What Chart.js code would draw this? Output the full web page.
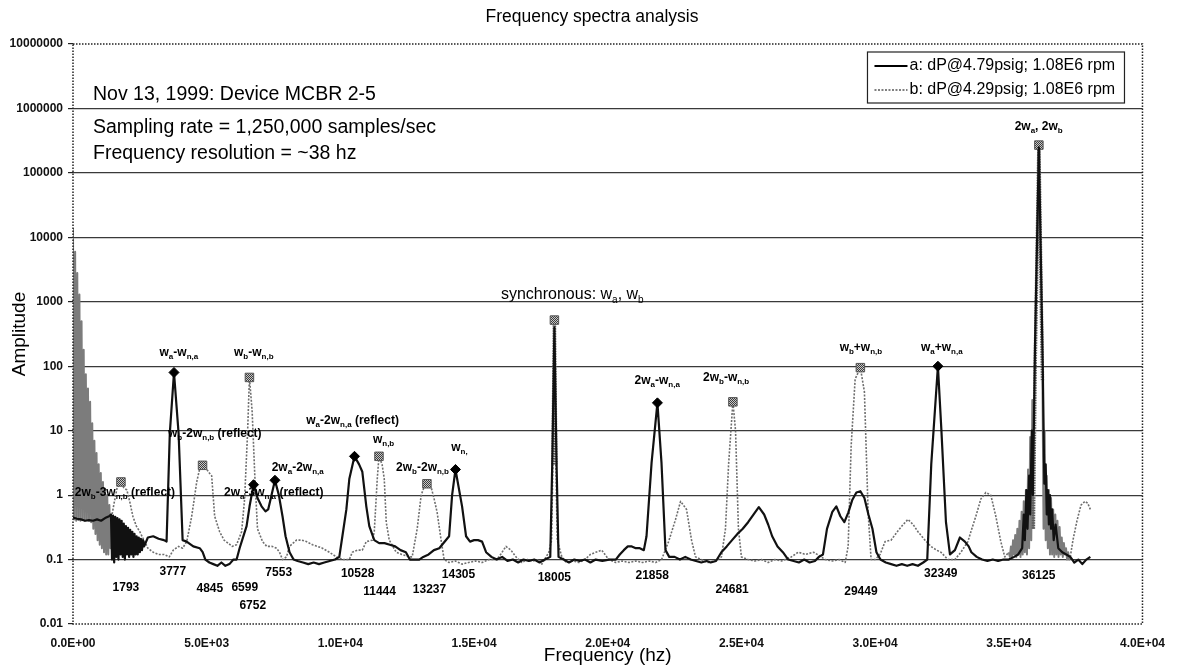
<!DOCTYPE html>
<html>
<head>
<meta charset="utf-8">
<title>Frequency spectra analysis</title>
<script src="https://cdn.jsdelivr.net/npm/chart.js@4.4.1/dist/chart.umd.min.js"></script>
<style>
  html, body { margin: 0; padding: 0; background: #fff; }
  canvas { display: block; }
</style>
</head>
<body>
<canvas id="spectrum" width="1177" height="670"></canvas>
<script>
const FAMILY = "'Liberation Sans', Arial, sans-serif";

const chartTitle = "Frequency spectra analysis";

// axis ticks
const xTickValues = [0, 5000, 10000, 15000, 20000, 25000, 30000, 35000, 40000];
const xTickLabels = ["0.0E+00", "5.0E+03", "1.0E+04", "1.5E+04", "2.0E+04", "2.5E+04", "3.0E+04", "3.5E+04", "4.0E+04"];
const yTickValues = [0.01, 0.1, 1, 10, 100, 1000, 10000, 100000, 1000000, 10000000];
const yTickLabels = ["0.01", "0.1", "1", "10", "100", "1000", "10000", "100000", "1000000", "10000000"];

const legendA = "a: dP@4.79psig; 1.08E6 rpm";
const legendB = "b: dP@4.29psig; 1.08E6 rpm";

// series a: [frequency hz, amplitude]
const seriesA = [
  [0,0.45],[150,0.43],[300,0.42],[450,0.4],[600,0.41],[750,0.4],[900,0.42],[1050,0.4],[1200,0.44],[1350,0.47],
  [1420,0.5],[1460,0.1],[1500,0.48],[1540,0.09],[1580,0.46],[1620,0.11],[1660,0.44],[1700,0.1],[1740,0.42],[1780,0.12],
  [1820,0.4],[1860,0.11],[1900,0.36],[1940,0.1],[1980,0.33],[2020,0.12],[2060,0.31],[2100,0.11],[2140,0.29],[2180,0.12],
  [2220,0.27],[2260,0.11],[2300,0.25],[2340,0.12],[2380,0.23],[2420,0.12],[2460,0.22],[2500,0.13],[2540,0.21],[2580,0.14],
  [2620,0.2],[2660,0.16],[2800,0.22],[3000,0.23],[3200,0.21],[3400,0.2],[3500,0.19],[3620,9],[3777,80],[3950,9],
  [4100,0.2],[4250,0.19],[4500,0.16],[4740,0.15],[4850,0.13],[4950,0.1],[5100,0.09],[5250,0.085],[5400,0.08],[5550,0.09],
  [5700,0.08],[5850,0.085],[6000,0.1],[6119,0.1],[6231,0.15],[6400,0.25],[6492,0.33],[6604,0.67],[6752,1.45],[6900,0.9],
  [7052,0.67],[7200,0.56],[7300,0.6],[7400,0.9],[7553,1.7],[7700,1.0],[7836,0.47],[7950,0.23],[8100,0.13],[8250,0.1],
  [8400,0.095],[8600,0.09],[8800,0.085],[9000,0.09],[9200,0.085],[9400,0.09],[9600,0.095],[9800,0.1],[9960,0.11],[10075,0.23],
  [10224,0.6],[10336,1.8],[10528,4],[10700,3],[10821,2.3],[10970,0.67],[11082,0.33],[11268,0.2],[11450,0.18],[11650,0.18],
  [11850,0.17],[12050,0.16],[12250,0.14],[12450,0.13],[12600,0.1],[12800,0.1],[12950,0.1],[13100,0.11],[13300,0.12],[13500,0.14],
  [13700,0.15],[13806,0.17],[14067,0.23],[14179,1.0],[14305,2.5],[14552,0.67],[14701,0.23],[14850,0.19],[15000,0.2],[15150,0.2],
  [15300,0.19],[15450,0.13],[15650,0.11],[15850,0.1],[16050,0.11],[16250,0.095],[16450,0.1],[16650,0.09],[16850,0.1],[17050,0.095],
  [17250,0.1],[17450,0.09],[17650,0.1],[17850,0.11],[17930,4],[18005,400],[18080,4],[18160,0.11],[18350,0.1],[18550,0.09],
  [18750,0.1],[18950,0.095],[19150,0.1],[19350,0.09],[19550,0.1],[19800,0.095],[20050,0.1],[20300,0.1],[20450,0.12],[20600,0.14],
  [20750,0.16],[20900,0.16],[21050,0.15],[21200,0.15],[21350,0.14],[21450,0.23],[21640,3.2],[21858,27],[22010,3.2],[22160,0.14],
  [22300,0.11],[22500,0.11],[22700,0.1],[22900,0.11],[23100,0.1],[23300,0.095],[23500,0.09],[23700,0.095],[23850,0.09],[24050,0.095],
  [24250,0.13],[24450,0.16],[24650,0.2],[24850,0.25],[25050,0.3],[25250,0.38],[25450,0.5],[25650,0.65],[25850,0.5],[26000,0.35],
  [26150,0.23],[26350,0.16],[26550,0.13],[26750,0.1],[26950,0.095],[27150,0.09],[27350,0.1],[27550,0.09],[27750,0.095],[27900,0.11],
  [28050,0.12],[28200,0.3],[28400,0.55],[28550,0.67],[28700,0.47],[28850,0.38],[29000,0.54],[29150,0.85],[29300,1.1],[29450,1.15],
  [29600,0.9],[29750,0.5],[29900,0.3],[30050,0.13],[30200,0.1],[30400,0.09],[30600,0.085],[30800,0.08],[31000,0.085],[31200,0.08],
  [31400,0.085],[31600,0.08],[31800,0.09],[31950,0.1],[32100,3],[32349,100],[32480,10],[32650,0.38],[32800,0.12],[32985,0.14],
  [33172,0.22],[33358,0.19],[33500,0.16],[33600,0.13],[33800,0.11],[34000,0.1],[34200,0.095],[34400,0.1],[34600,0.095],[34800,0.1],
  [35000,0.1],[35200,0.11],[35350,0.12],[35500,0.15],[35560,0.5],[35600,0.2],[35660,1.2],[35700,0.3],[35760,2],[35800,0.5],
  [35860,10],[35900,1],[35980,200],[36125,250000],[36270,100],[36330,1.5],[36380,3],[36420,0.5],[36460,1.2],[36500,0.35],
  [36540,1],[36580,0.3],[36620,0.6],[36680,0.2],[36750,0.35],[36850,0.15],[37000,0.13],[37150,0.12],[37300,0.11],[37450,0.09],
  [37600,0.1],[37750,0.085],[37900,0.1],[38050,0.11]
];

// series b: [frequency hz, amplitude]
const seriesB = [
  [0,14000],[40,0.42],[80,6000],[120,0.4],[160,2800],[200,0.41],[240,1300],[280,0.4],[320,500],[360,0.42],
  [400,180],[440,0.4],[480,75],[520,0.41],[560,45],[600,0.4],[640,28],[680,0.38],[720,13],[760,0.3],
  [800,7],[840,0.25],[880,4.5],[920,0.2],[960,3],[1000,0.17],[1040,2.2],[1080,0.15],[1120,1.6],[1160,0.13],
  [1200,1.25],[1240,0.12],[1280,1.0],[1320,0.12],[1360,0.7],[1400,0.15],[1440,0.45],
  [1550,0.8],[1650,1.3],[1793,1.6],[1900,1.3],[2015,1.2],[2120,0.8],[2239,0.47],[2370,0.33],[2500,0.27],[2650,0.2],
  [2800,0.15],[3000,0.13],[3200,0.12],[3400,0.12],[3600,0.11],[3750,0.14],[3950,0.16],[4100,0.15],[4254,0.19],[4440,0.47],
  [4627,1.6],[4750,2.7],[4845,2.9],[4950,2.7],[5100,2.2],[5186,2],[5298,0.47],[5485,0.27],[5650,0.2],[5800,0.18],
  [5950,0.16],[6119,0.17],[6306,0.27],[6418,0.87],[6530,9.5],[6599,67],[6700,20],[6800,2],[6900,0.3],[7089,0.19],
  [7250,0.16],[7450,0.16],[7612,0.15],[7724,0.13],[7836,0.1],[7985,0.11],[8097,0.16],[8358,0.2],[8550,0.2],[8731,0.19],
  [8955,0.17],[9150,0.16],[9328,0.15],[9589,0.13],[9850,0.11],[10100,0.1],[10335,0.1],[10447,0.13],[10650,0.14],[10820,0.14],
  [10970,0.19],[11194,0.2],[11268,0.27],[11380,1.8],[11444,4],[11560,3],[11641,1.8],[11716,0.38],[11828,0.2],[12090,0.13],
  [12300,0.12],[12575,0.11],[12686,0.11],[12873,0.3],[13022,1.0],[13150,1.4],[13237,1.5],[13400,1.3],[13500,0.9],[13619,0.54],
  [13768,0.2],[13880,0.1],[14067,0.09],[14300,0.095],[14550,0.085],[14800,0.09],[15050,0.095],[15300,0.09],[15560,0.1],[15800,0.1],
  [15932,0.11],[16193,0.16],[16380,0.14],[16567,0.11],[16790,0.09],[17000,0.1],[17200,0.095],[17425,0.1],[17537,0.085],[17798,0.13],
  [17900,0.2],[17950,3],[18005,520],[18060,3],[18110,0.2],[18283,0.11],[18450,0.09],[18700,0.095],[18917,0.09],[19150,0.1],
  [19350,0.12],[19551,0.13],[19775,0.14],[20037,0.1],[20300,0.09],[20550,0.095],[20800,0.09],[21050,0.095],[21300,0.09],[21550,0.095],
  [21790,0.09],[22014,0.1],[22276,0.19],[22537,0.42],[22724,0.8],[22947,0.6],[23134,0.2],[23283,0.11],[23500,0.1],[23750,0.09],
  [24000,0.095],[24253,0.11],[24403,0.3],[24520,3],[24681,28],[24780,10],[24888,0.3],[25000,0.11],[25250,0.1],[25500,0.095],
  [25750,0.1],[26000,0.09],[26250,0.1],[26500,0.095],[26865,0.11],[27127,0.13],[27400,0.12],[27700,0.13],[27985,0.11],[28134,0.1],
  [28400,0.095],[28650,0.1],[28880,0.09],[28992,0.16],[29104,5.8],[29253,63],[29449,95],[29600,40],[29739,0.54],[29850,0.1],
  [30000,0.1],[30186,0.12],[30373,0.19],[30597,0.2],[30858,0.28],[31050,0.35],[31231,0.42],[31420,0.35],[31604,0.27],[31865,0.2],
  [32089,0.16],[32300,0.14],[32462,0.13],[32724,0.1],[32985,0.1],[33209,0.13],[33470,0.19],[33582,0.27],[33768,0.47],[33955,0.87],
  [34141,1.1],[34328,1.0],[34515,0.47],[34701,0.19],[34850,0.11],
  [35000,0.13],[35040,0.11],[35080,0.16],[35120,0.11],[35160,0.2],[35200,0.12],[35240,0.24],[35280,0.11],[35320,0.3],[35360,0.12],
  [35400,0.4],[35440,0.11],[35480,0.55],[35520,0.12],[35560,0.8],[35600,0.13],[35640,1.2],[35680,0.12],[35720,2.5],[35760,0.15],
  [35800,8],[35840,0.2],[35880,30],[35920,0.3],[35990,120],[36125,270000],[36260,60],[36300,0.3],[36340,10],[36380,0.2],
  [36420,2],[36460,0.15],[36500,1.2],[36540,0.12],[36580,0.9],[36620,0.12],[36660,0.6],[36700,0.11],[36740,0.5],[36780,0.12],
  [36820,0.4],[36860,0.11],[36900,0.32],[36940,0.12],[36980,0.22],[37020,0.11],[37060,0.18],[37100,0.12],[37140,0.15],[37180,0.1],
  [37220,0.13],[37260,0.1],[37300,0.11],[37400,0.2],[37550,0.4],[37700,0.7],[37850,0.8],[37950,0.75],[38050,0.6]
];

// peaks that carry a marker
const markA = [3777, 6752, 7553, 10528, 14305, 21858, 32349];
const markB = [1793, 4845, 6599, 11444, 13237, 18005, 24681, 29449, 36125];

// peak names: text ({..} = subscript), label centre frequency, label centre amplitude
const peakNames = [
  ["w{a}-w{n,a}", 3959, 160],
  ["w{b}-w{n,b}", 6760, 160],
  ["w{b}-2w{n,b} (reflect)", 5304, 8.9],
  ["2w{b}-3w{n,b} (reflect)", 1942, 1.08],
  ["2w{a}-3w{n,a} (reflect)", 7507, 1.08],
  ["2w{a}-2w{n,a}", 8404, 2.64],
  ["w{a}-2w{n,a} (reflect)", 10458, 14.1],
  ["w{n,b}", 11616, 7.2],
  ["2w{b}-2w{n,b}", 13073, 2.64],
  ["w{n,}", 14454, 5.4],
  ["2w{a}-w{n,a}", 21850, 59],
  ["2w{b}-w{n,b}", 24427, 66],
  ["w{b}+w{n,b}", 29469, 192],
  ["w{a}+w{n,a}", 32495, 192],
  ["2w{a}, 2w{b}", 36117, 515000]
];
const syncName = ["synchronous: w{a}, w{b}", 18675, 1274];

// peak frequency read-outs: text, label centre frequency, label centre amplitude
const peakFreqs = [
  ["1793", 1980, 0.036], ["3777", 3735, 0.064], ["4845", 5117, 0.035], ["6599", 6424, 0.036],
  ["6752", 6723, 0.019], ["7553", 7694, 0.062], ["10528", 10645, 0.06], ["11444", 11466, 0.032],
  ["13237", 13334, 0.034], ["14305", 14417, 0.058], ["18005", 18003, 0.052], ["21858", 21663, 0.056],
  ["24681", 24651, 0.034], ["29449", 29469, 0.032], ["32349", 32457, 0.06], ["36125", 36117, 0.056]
];

const infoLines = [
  "Nov 13, 1999: Device MCBR 2-5",
  "Sampling rate = 1,250,000 samples/sec",
  "Frequency resolution = ~38 hz"
];

// grey cross-hatch used for the b markers
const hatch = (() => {
  const c = document.createElement("canvas");
  c.width = 2; c.height = 2;
  const g = c.getContext("2d");
  g.fillStyle = "#c8c8c8"; g.fillRect(0, 0, 2, 2);
  g.fillStyle = "#3c3c3c"; g.fillRect(0, 0, 1, 1); g.fillRect(1, 1, 1, 1);
  return g.createPattern(c, "repeat");
})();

// dense stretches of b (fine zigzag) come out as a grey hatched band
const isDense = s => s.p1.parsed.x - s.p0.parsed.x <= 45;
const isSpike = s => Math.max(s.p0.parsed.y, s.p1.parsed.y) > 100;

// text with {subscripts}, centred on cx, cy
function drawRich(ctx, str, cx, cy, size, weight) {
  const segs = [];
  const re = /([^{]+)|\{([^}]*)\}/g;
  let m;
  while ((m = re.exec(str))) segs.push(m[1] !== undefined ? { t: m[1], sub: false } : { t: m[2], sub: true });
  const mainF = `${weight} ${size}px ${FAMILY}`;
  const subF = `${weight} ${Math.round(size * 0.65)}px ${FAMILY}`;
  let w = 0;
  segs.forEach(s => { ctx.font = s.sub ? subF : mainF; s.w = ctx.measureText(s.t).width; w += s.w; });
  let x = cx - w / 2;
  ctx.textAlign = "left";
  ctx.textBaseline = "middle";
  segs.forEach(s => {
    ctx.font = s.sub ? subF : mainF;
    ctx.fillText(s.t, x, cy + (s.sub ? size * 0.3 : 0));
    x += s.w;
  });
}

const overlay = {
  id: "overlay",
  afterDatasetsDraw(chart) {
    const { ctx, chartArea: a, scales: { x, y } } = chart;
    ctx.save();

    // title
    ctx.fillStyle = "#000";
    ctx.font = `17.5px ${FAMILY}`;
    ctx.textAlign = "center";
    ctx.textBaseline = "middle";
    ctx.fillText(chartTitle, 592, 17);

    // dotted plot frame
    ctx.strokeStyle = "#222";
    ctx.lineWidth = 1.5;
    ctx.setLineDash([1.5, 1.5]);
    ctx.strokeRect(a.left, a.top, a.right - a.left, a.bottom - a.top);
    ctx.setLineDash([]);

    peakNames.forEach(([t, f, v]) => drawRich(ctx, t, x.getPixelForValue(f), y.getPixelForValue(v), 12, "bold"));
    drawRich(ctx, syncName[0], x.getPixelForValue(syncName[1]), y.getPixelForValue(syncName[2]), 16, "normal");

    ctx.font = `bold 12px ${FAMILY}`;
    ctx.textAlign = "center";
    ctx.textBaseline = "middle";
    peakFreqs.forEach(([t, f, v]) => ctx.fillText(t, x.getPixelForValue(f), y.getPixelForValue(v)));

    // run notes
    ctx.font = `19.5px ${FAMILY}`;
    ctx.textAlign = "left";
    ctx.fillText(infoLines[0], a.left + 20, a.top + 51);
    ctx.fillText(infoLines[1], a.left + 20, a.top + 84);
    ctx.fillText(infoLines[2], a.left + 20, a.top + 110);

    // legend box
    const lx = a.right - 275, ly = a.top + 8;
    ctx.fillStyle = "#fff";
    ctx.fillRect(lx, ly, 257, 51);
    ctx.strokeStyle = "#222";
    ctx.lineWidth = 1.2;
    ctx.strokeRect(lx, ly, 257, 51);
    ctx.strokeStyle = "#000";
    ctx.lineWidth = 2;
    ctx.beginPath(); ctx.moveTo(lx + 7, ly + 14); ctx.lineTo(lx + 40, ly + 14); ctx.stroke();
    ctx.strokeStyle = "#555";
    ctx.lineWidth = 1.6;
    ctx.setLineDash([2, 1.5]);
    ctx.beginPath(); ctx.moveTo(lx + 7, ly + 38); ctx.lineTo(lx + 40, ly + 38); ctx.stroke();
    ctx.setLineDash([]);
    ctx.fillStyle = "#000";
    ctx.font = `16px ${FAMILY}`;
    ctx.fillText(legendA, lx + 42, ly + 14);
    ctx.fillText(legendB, lx + 42, ly + 38);

    ctx.restore();
  }
};

Chart.defaults.font.family = FAMILY;
Chart.defaults.color = "#000";

new Chart(document.getElementById("spectrum"), {
  type: "line",
  data: {
    datasets: [
      {
        label: legendA,
        data: seriesA.map(([f, v]) => ({ x: f, y: v })),
        borderColor: "#111",
        borderWidth: 2.2,
        borderJoinStyle: "round",
        tension: 0,
        fill: false,
        pointStyle: "rectRot",
        pointRadius: c => (c.raw && markA.includes(c.raw.x) ? 5 : 0),
        pointBackgroundColor: "#000",
        pointBorderColor: "#000",
        pointBorderWidth: 1
      },
      {
        label: legendB,
        data: seriesB.map(([f, v]) => ({ x: f, y: v })),
        borderColor: "#6e6e6e",
        borderWidth: 1.6,
        borderDash: [2, 1.5],
        borderJoinStyle: "round",
        tension: 0,
        fill: false,
        segment: {
          borderDash: s => (isDense(s) ? [] : isSpike(s) ? [1.5, 1] : undefined),
          borderWidth: s => (isDense(s) ? 2 : isSpike(s) ? 3.5 : undefined),
          borderColor: s => (isDense(s) ? "#7c7c7c" : isSpike(s) ? "#5a5a5a" : undefined)
        },
        pointStyle: "rect",
        pointRadius: c => (c.raw && markB.includes(c.raw.x) ? 6 : 0),
        pointBackgroundColor: hatch,
        pointBorderColor: "#555",
        pointBorderWidth: 1
      }
    ]
  },
  options: {
    responsive: false,
    animation: false,
    events: [],
    layout: { padding: { left: 0, right: 33, top: 44, bottom: 0 } },
    plugins: {
      legend: { display: false },
      tooltip: { enabled: false },
      title: { display: false }
    },
    scales: {
      x: {
        type: "linear",
        min: 0,
        max: 40000,
        afterBuildTicks: s => { s.ticks = xTickValues.map(v => ({ value: v })); },
        ticks: {
          callback: v => xTickLabels[xTickValues.indexOf(v)],
          font: { size: 12, weight: "bold" },
          color: "#111",
          padding: 12,
          maxRotation: 0,
          autoSkip: false
        },
        grid: { display: false, drawTicks: false },
        border: { display: false },
        title: {
          display: true,
          text: "Frequency (hz)",
          font: { size: 19 },
          color: "#000",
          padding: { top: 0, bottom: 2.6 }
        },
        afterFit: s => { s.height = 46; }
      },
      y: {
        type: "logarithmic",
        min: 0.01,
        max: 10000000,
        afterBuildTicks: s => { s.ticks = yTickValues.map(v => ({ value: v })); },
        ticks: {
          callback: v => yTickLabels[yTickValues.indexOf(v)] ?? "",
          font: { size: 12, weight: "bold" },
          color: "#111",
          padding: 5,
          autoSkip: false
        },
        grid: {
          color: c => (c.tick && (c.tick.value === 0.01 || c.tick.value === 10000000) ? "rgba(0,0,0,0)" : "#3a3a3a"),
          lineWidth: 1.2,
          tickColor: "#222",
          tickLength: 5
        },
        border: { display: false },
        title: {
          display: true,
          text: "Amplitude",
          font: { size: 19 },
          color: "#000",
          padding: { top: 8.6, bottom: 0 }
        },
        afterFit: s => { s.width = 73; }
      }
    }
  },
  plugins: [overlay]
});
</script>
</body>
</html>
